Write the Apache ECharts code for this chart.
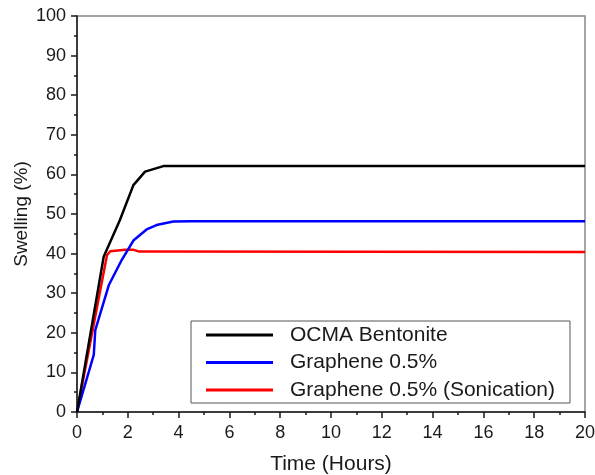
<!DOCTYPE html>
<html>
<head>
<meta charset="utf-8">
<script src="https://cdn.jsdelivr.net/npm/echarts@6/dist/echarts.min.js"></script>
<style>
  html, body { margin: 0; padding: 0; background: #fff; }
  #chart { width: 595px; height: 475px; }
</style>
</head>
<body>
<div id="chart"></div>
<script>
// Swelling over time for the three muds
const seriesNames = ['OCMA Bentonite', 'Graphene 0.5%', 'Graphene 0.5% (Sonication)'];
const seriesColors = ['#000000', '#0000ff', '#ff0000'];

const timeBentonite = [0, 1.05, 1.69, 2.22, 2.68, 3.4, 20];
const swellBentonite = [0, 39.2, 48.5, 57.3, 60.7, 62.1, 62.1];

const timeGraphene = [0, 0.66, 0.72, 1.25, 1.77, 2.22, 2.74, 3.13, 3.79, 4.5, 20];
const swellGraphene = [0, 14.4, 20.7, 32.0, 38.5, 43.3, 46.1, 47.2, 48.1, 48.2, 48.2];

const timeSonication = [0, 1.18, 1.31, 1.9, 2.2, 2.45, 20];
const swellSonication = [0, 39.6, 40.6, 41.0, 41.0, 40.5, 40.4];

const xTicks = { min: 0, max: 20, interval: 2 };
const yTicks = { min: 0, max: 100, interval: 10 };

function pairs(xs, ys) {
  return xs.map((x, i) => [x, ys[i]]);
}

const seriesData = [
  pairs(timeBentonite, swellBentonite),
  pairs(timeGraphene, swellGraphene),
  pairs(timeSonication, swellSonication)
];

const font = '"Liberation Sans", Arial, sans-serif';
const chart = echarts.init(document.getElementById('chart'), null, { renderer: 'canvas' });

const axisCommon = {
  type: 'value',
  axisLine: { show: true, onZero: false, lineStyle: { color: '#1a1a1a', width: 1.5 } },
  axisTick: { show: true, inside: false, length: 6, lineStyle: { color: '#1a1a1a', width: 1.5 } },
  minorTick: { show: true, splitNumber: 2, length: 3, lineStyle: { color: '#1a1a1a', width: 1.5 } },
  splitLine: { show: false },
  axisLabel: { color: '#1a1a1a', fontFamily: font, fontSize: 18 },
  nameLocation: 'middle',
  nameMoveOverlap: false,
  nameTextStyle: { color: '#1a1a1a', fontFamily: font, fontSize: 21 }
};

chart.setOption({
  animation: false,
  backgroundColor: '#ffffff',
  grid: {
    left: 77, top: 16, right: 10, bottom: 63,
    containLabel: false,
    outerBoundsMode: 'none',
    show: true, borderColor: '#888888', borderWidth: 1.5, backgroundColor: 'transparent'
  },
  xAxis: Object.assign({}, axisCommon, {
    min: xTicks.min, max: xTicks.max, interval: xTicks.interval,
    name: 'Time (Hours)', nameGap: 42,
    axisLabel: Object.assign({}, axisCommon.axisLabel, { margin: 12 })
  }),
  yAxis: Object.assign({}, axisCommon, {
    min: yTicks.min, max: yTicks.max, interval: yTicks.interval,
    name: 'Swelling (%)', nameGap: 46,
    nameTextStyle: Object.assign({}, axisCommon.nameTextStyle, { fontSize: 19 }),
    axisLabel: Object.assign({}, axisCommon.axisLabel, { margin: 11 })
  }),
  legend: {
    orient: 'vertical',
    left: 191, top: 321,
    padding: [3, 15, 2, 15],
    itemGap: 5.5,
    itemWidth: 67, itemHeight: 3,
    icon: 'rect',
    borderColor: '#555555', borderWidth: 1,
    backgroundColor: '#ffffff',
    textStyle: { color: '#1a1a1a', fontFamily: font, fontSize: 21, lineHeight: 22, padding: [0, 0, 0, 12] },
    data: seriesNames
  },
  series: seriesNames.map((name, i) => ({
    name: name,
    type: 'line',
    data: seriesData[i],
    showSymbol: false,
    smooth: false,
    color: seriesColors[i],
    lineStyle: { color: seriesColors[i], width: 2.5 },
    z: 3 - i + 2
  }))
});
</script>
</body>
</html>
